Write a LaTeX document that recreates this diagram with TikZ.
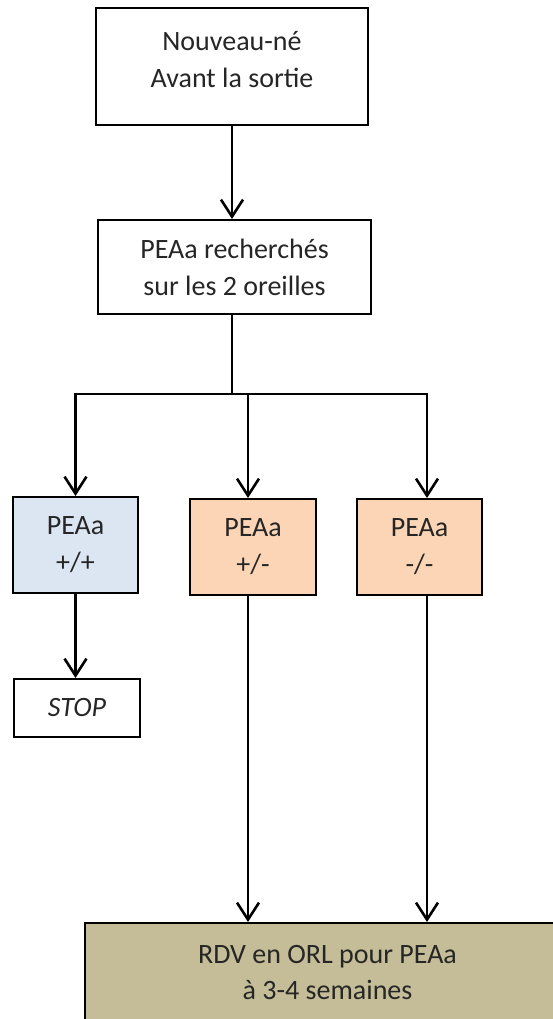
\documentclass[tikz,border=0pt]{standalone}
\usepackage{fontspec}
\setmainfont{Carlito}
\usetikzlibrary{arrows.meta}
\definecolor{txtc}{HTML}{262626}
\definecolor{bluef}{HTML}{DCE6F2}
\definecolor{orangef}{HTML}{FBD5B5}
\definecolor{olivef}{HTML}{C4BD97}
\begin{document}
\begin{tikzpicture}[x=1pt,y=-1pt,
  box/.style={draw=black, line width=2pt, fill=white, align=center, text=txtc,
    font=\fontsize{28}{37}\selectfont, inner sep=0pt},
  conn/.style={line width=2.8pt, -{Straight Barb[length=17pt,width=22pt,line width=2.6pt]}},
  stem/.style={line width=2.8pt}]
\useasboundingbox (0,0) rectangle (552,1019);
\node[box, minimum width=272pt, minimum height=117pt, text depth=15pt] (b1) at (232,66.5) {Nouveau-né\\Avant la sortie};
\node[box, minimum width=273pt, minimum height=94pt] (b2) at (234.5,267) {PEAa recherchés\\sur les 2 oreilles};
\node[box, fill=bluef, minimum width=125pt, minimum height=96pt] (p1) at (75.5,545) {PEAa\\+/+};
\node[box, fill=orangef, minimum width=126pt, minimum height=96pt] (p2) at (253,547) {PEAa\\+/-};
\node[box, fill=orangef, minimum width=125pt, minimum height=96pt] (p3) at (419.5,547) {PEAa\\-/-};
\node[box, minimum width=126pt, minimum height=58pt, font=\fontsize{28}{37}\selectfont\itshape] (stop) at (77,708) {STOP};
\node[box, fill=olivef, minimum width=485pt, minimum height=100pt, font=\fontsize{28}{36}\selectfont] (bot) at (327.5,973) {RDV en ORL pour PEAa\\à 3-4 semaines};
\coordinate (j) at (232,394);
\coordinate (m) at (248,394);
\coordinate (r) at (427,394);
\draw[conn] (b1.south -| j) -- (b2.north -| j);
\draw[stem] (b2.south -| j) -- (j);
\draw[conn] (r) -- (j) -| (p1.north);
\draw[conn] (j) -- (r) -- (r |- p3.north);
\draw[conn] (m) -- (m |- p2.north);
\draw[conn] (p1.south) -- (p1.south |- stop.north);
\draw[conn] (p2.south -| m) -- (bot.north -| m);
\draw[conn] (p3.south -| r) -- (bot.north -| r);
\end{tikzpicture}
\end{document}
